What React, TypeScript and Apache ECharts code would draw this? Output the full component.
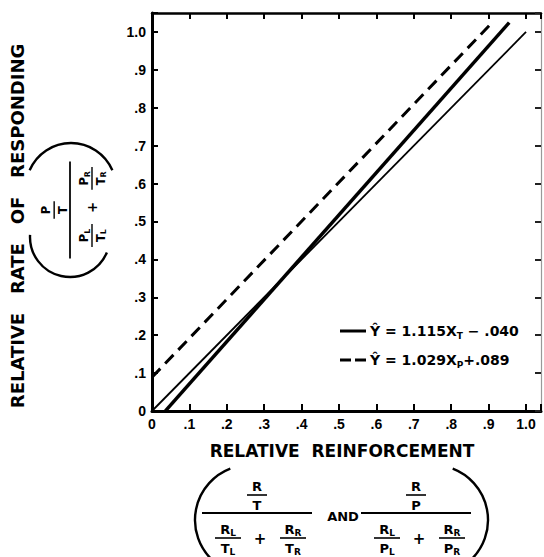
import React, { useEffect, useRef } from 'react';
import * as echarts from 'echarts';

// Axis tick labels (0 … 1.0 in steps of .1)
const tickLabels = ['0', '.1', '.2', '.3', '.4', '.5', '.6', '.7', '.8', '.9', '1.0'];

// Reference diagonal (perfect matching)
const diagonalX = [0, 1.0];

// Fitted lines: Ŷ = slope·X + intercept, drawn over the x-range of the data
const fitSlopes = [1.115, 1.029];
const fitIntercepts = [-0.04, 0.089];
const fitXStart = [0.036, 0];
const fitXEnd = [0.955, 0.912];
const fitLabelMain = ['Ŷ = 1.115X', 'Ŷ = 1.029X'];
const fitLabelSub = ['T', 'P'];
const fitLabelTail = [' − .040', '+.089'];

const FONT = '"DejaVu Sans", sans-serif';
const TICK_FONT = '"Liberation Sans", Arial, sans-serif';

const tickLabel = (v: number) => {
  const i = Math.round(v * 10);
  if (Math.abs(v - i / 10) > 1e-6 || i < 0 || i >= tickLabels.length) return '';
  return tickLabels[i];
};

const txt = (x: number, y: number, text: string, size = 13) => ({
  type: 'text',
  x,
  y,
  silent: true,
  style: {
    text,
    fontSize: size,
    fontWeight: 'bold',
    fontFamily: FONT,
    fill: '#000',
    align: 'center',
    verticalAlign: 'middle',
  },
});

const subTxt = (x: number, y: number, main: string, sub: string, size = 13) => ({
  type: 'text',
  x,
  y,
  silent: true,
  style: {
    text: `{m|${main}}{s|${sub}}`,
    align: 'center',
    verticalAlign: 'middle',
    rich: {
      m: { fontSize: size, fontWeight: 'bold', fontFamily: FONT, fill: '#000', lineHeight: size + 3 },
      s: {
        fontSize: Math.round(size * 0.68),
        fontWeight: 'bold',
        fontFamily: FONT,
        fill: '#000',
        lineHeight: Math.round(size * 0.68),
        verticalAlign: 'bottom',
      },
    },
  },
});

const seg = (x1: number, y1: number, x2: number, y2: number, w = 1.6, dash?: number[]) => ({
  type: 'line',
  silent: true,
  shape: { x1, y1, x2, y2 },
  style: { stroke: '#000', lineWidth: w, lineDash: dash },
});

const arc = (cx: number, cy: number, r: number, a0: number, a1: number, w = 2.4) => ({
  type: 'arc',
  silent: true,
  shape: { cx, cy, r, startAngle: (a0 * Math.PI) / 180, endAngle: (a1 * Math.PI) / 180, clockwise: true },
  style: { stroke: '#000', lineWidth: w, fill: 'none' },
});

// Compound ratio: (top/bot) over (top_L/bot_L + top_R/bot_R)
const ratioBlock = (cx: number, by: number, top: string, bot: string) => [
  txt(cx, by - 27, top),
  seg(cx - 10, by - 18, cx + 10, by - 18),
  txt(cx, by - 8, bot),
  seg(cx - 55, by, cx + 55, by, 2),
  subTxt(cx - 29, by + 16, top, 'L'),
  seg(cx - 42, by + 25, cx - 16, by + 25),
  subTxt(cx - 29, by + 35, bot, 'L'),
  txt(cx + 3, by + 26, '+', 15),
  subTxt(cx + 36, by + 16, top, 'R'),
  seg(cx + 23, by + 25, cx + 49, by + 25),
  subTxt(cx + 36, by + 35, bot, 'R'),
];

export default function App() {
  const ref = useRef<HTMLDivElement>(null);

  useEffect(() => {
    if (!ref.current) return;
    const chart = echarts.init(ref.current, undefined, { renderer: 'svg' });

    const fitData = fitSlopes.map((s, i) => [
      [fitXStart[i], s * fitXStart[i] + fitIntercepts[i]],
      [fitXEnd[i], s * fitXEnd[i] + fitIntercepts[i]],
    ]);

    const labelStyle = {
      formatter: tickLabel,
      fontSize: 14,
      fontWeight: 'bold',
      fontFamily: TICK_FONT,
      color: '#000',
    };
    const tickStyle = (len: number) => ({
      show: true,
      inside: true,
      length: len,
      lineStyle: { color: '#000', width: 2 },
    });

    const legendRows: any[] = [];
    const rowY = [331, 360];
    fitSlopes.forEach((_, i) => {
      if (i === 0) legendRows.push(seg(340, rowY[i], 366, rowY[i], 3));
      else {
        legendRows.push(seg(340, rowY[i], 351, rowY[i], 3));
        legendRows.push(seg(355, rowY[i], 366, rowY[i], 3));
      }
      legendRows.push({
        type: 'text',
        x: 370,
        y: rowY[i],
        silent: true,
        style: {
          text: `{a|${fitLabelMain[i]}}{s|${fitLabelSub[i]}}{a|${fitLabelTail[i]}}`,
          align: 'left',
          verticalAlign: 'middle',
          rich: {
            a: { fontSize: 14, fontWeight: 'bold', fontFamily: FONT, fill: '#000', lineHeight: 18 },
            s: { fontSize: 9, fontWeight: 'bold', fontFamily: FONT, fill: '#000', lineHeight: 9, verticalAlign: 'bottom' },
          },
        },
      });
    });

    const graphic: any[] = [
      // vertical axis title
      {
        type: 'text',
        x: 17,
        y: 226,
        rotation: Math.PI / 2,
        silent: true,
        style: {
          text: 'RELATIVE   RATE   OF   RESPONDING',
          fontSize: 18,
          fontWeight: 'bold',
          fontFamily: FONT,
          fill: '#000',
          align: 'center',
          verticalAlign: 'middle',
        },
      },
      // vertical formula, rotated
      {
        type: 'group',
        x: 70,
        y: 210,
        rotation: Math.PI / 2,
        scaleX: 0.88,
        scaleY: 0.88,
        children: ratioBlock(0, 0, 'P', 'T'),
      },
      arc(71, 188, 45, -156.8, -23.2),
      arc(70, 237, 40, 22.8, 183),
      // horizontal axis title
      {
        type: 'text',
        x: 342,
        y: 451,
        silent: true,
        style: {
          text: 'RELATIVE  REINFORCEMENT',
          fontSize: 17,
          fontWeight: 'bold',
          fontFamily: FONT,
          fill: '#000',
          align: 'center',
          verticalAlign: 'middle',
        },
      },
      ...ratioBlock(257, 513, 'R', 'T'),
      txt(343, 516, 'AND'),
      ...ratioBlock(416, 513, 'R', 'P'),
      arc(250, 520, 55, 133.5, 249),
      arc(433, 520, 55, -69, 46.5),
      ...legendRows,
    ];

    chart.setOption({
      animation: false,
      backgroundColor: '#fff',
      grid: { left: 152, right: 3, top: 13, bottom: 146, containLabel: false, outerBoundsMode: 'none' },
      xAxis: [
        {
          type: 'value',
          position: 'bottom',
          min: 0,
          max: 1.04,
          interval: 0.1,
          axisLine: { onZero: false, lineStyle: { color: '#000', width: 3 } },
          axisTick: tickStyle(7),
          axisLabel: { ...labelStyle, margin: 6 },
          splitLine: { show: false },
        },
        {
          type: 'value',
          position: 'top',
          min: 0,
          max: 1.04,
          interval: 0.1,
          axisLine: { onZero: false, lineStyle: { color: '#000', width: 2.5 } },
          axisTick: tickStyle(6),
          axisLabel: { show: false },
          splitLine: { show: false },
        },
      ],
      yAxis: [
        {
          type: 'value',
          position: 'left',
          min: 0,
          max: 1.05,
          interval: 0.1,
          axisLine: { onZero: false, lineStyle: { color: '#000', width: 3 } },
          axisTick: tickStyle(6),
          axisLabel: { ...labelStyle, margin: 6 },
          splitLine: { show: false },
        },
        {
          type: 'value',
          position: 'right',
          min: 0,
          max: 1.05,
          interval: 0.1,
          axisLine: { onZero: false, lineStyle: { color: '#999', width: 1.2 } },
          axisTick: { show: true, inside: true, length: 6, lineStyle: { color: '#222', width: 2 } },
          axisLabel: { show: false },
          splitLine: { show: false },
        },
      ],
      series: [
        {
          type: 'line',
          name: 'diagonal',
          data: diagonalX.map((x) => [x, x]),
          symbol: 'none',
          silent: true,
          lineStyle: { color: '#000', width: 1.8 },
        },
        {
          type: 'line',
          name: 'time-based',
          data: fitData[0],
          symbol: 'none',
          silent: true,
          lineStyle: { color: '#000', width: 3.5 },
        },
        {
          type: 'line',
          name: 'response-based',
          data: fitData[1],
          symbol: 'none',
          silent: true,
          lineStyle: { color: '#000', width: 3, type: [12, 7] },
        },
      ],
      graphic,
    });

    return () => chart.dispose();
  }, []);

  return (
    <div
      ref={ref}
      style={{ position: 'fixed', left: 0, top: 0, width: 544, height: 557, background: '#fff' }}
    />
  );
}
